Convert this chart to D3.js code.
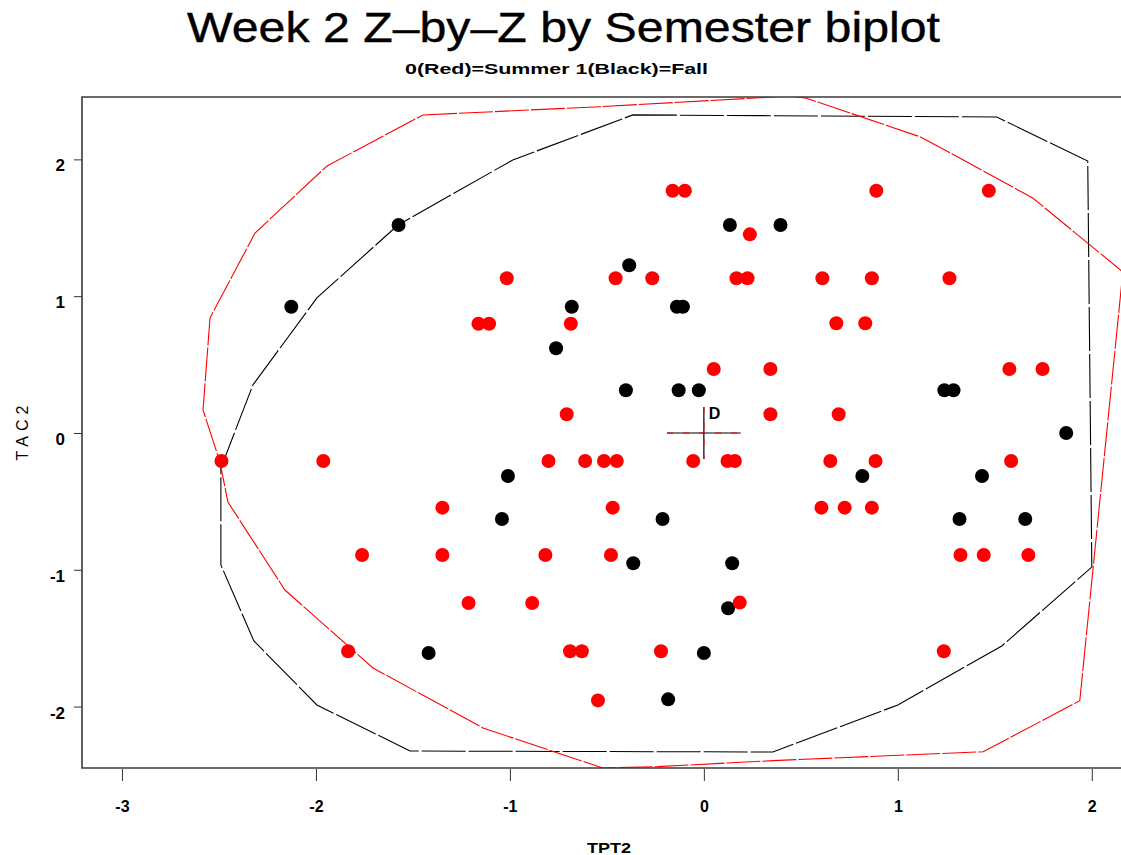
<!DOCTYPE html>
<html>
<head>
<meta charset="utf-8">
<script src="https://cdn.jsdelivr.net/npm/d3@7"></script>
<style>
  html, body { margin: 0; padding: 0; background: #fff; }
  svg { display: block; }
</style>
</head>
<body>
<svg id="chart" width="1121" height="855"></svg>
<script>
// ---- Data ----
const summerX = [-0.161,-0.098,0.889,1.469,0.237,-1.016,-0.455,-0.266,0.168,0.225,0.611,0.866,1.266,
  -1.162,-1.107,-0.686,0.683,0.832,0.051,0.343,1.575,1.746,-0.707,0.343,0.695,
  -2.487,-1.962,-0.801,-0.612,-0.515,-0.449,-0.055,0.122,0.160,0.652,0.885,1.584,
  -1.348,-0.470,0.606,0.726,0.866,
  -1.762,-1.348,-0.817,-0.479,1.323,1.443,1.673,
  -1.213,-0.885,0.185,
  -1.834,-0.690,-0.629,-0.221,1.237,-0.546];
const summerY = [1.771,1.771,1.771,1.771,1.452,1.131,1.131,1.131,1.131,1.131,1.131,1.131,1.131,
  0.799,0.799,0.799,0.802,0.802,0.468,0.468,0.468,0.468,0.137,0.137,0.137,
  -0.205,-0.205,-0.205,-0.205,-0.205,-0.205,-0.205,-0.205,-0.205,-0.205,-0.205,-0.205,
  -0.546,-0.546,-0.546,-0.546,-0.546,
  -0.892,-0.892,-0.892,-0.892,-0.892,-0.892,-0.892,
  -1.243,-1.243,-1.240,
  -1.596,-1.596,-1.596,-1.596,-1.596,-1.955];

const fallX = [-1.574,0.134,0.395,-0.385,-2.127,-0.681,-0.139,-0.108,-0.762,-0.402,-0.130,-0.026,1.240,1.287,1.868,
  -1.010,0.817,1.434,-1.041,-0.213,1.318,1.657,-0.364,0.146,0.125,-1.419,0.000,-0.184];
const fallY = [1.520,1.520,1.520,1.226,0.923,0.923,0.923,0.923,0.619,0.312,0.312,0.312,0.312,0.312,0.000,
  -0.314,-0.314,-0.314,-0.629,-0.629,-0.629,-0.629,-0.952,-0.952,-1.281,-1.608,-1.608,-1.947];

// Contour polygons (vertices, data units)
const summerHullX = [-1.448,-0.536,0.443,0.529,1.113,1.354,1.697,2.160,1.938,1.440,0.357,-0.236,-0.521,-1.139,-1.706,-2.160,-2.454,-2.495,-2.582,-2.546,-2.314,-1.943];
const summerHullY = [2.325,2.385,2.463,2.447,2.166,1.983,1.716,1.177,-1.957,-2.330,-2.395,-2.439,-2.449,-2.156,-1.718,-1.148,-0.504,-0.212,0.168,0.841,1.462,1.952];
const fallHullX = [-0.366,1.510,1.979,2.000,1.536,1.000,0.356,-1.515,-1.995,-2.320,-2.490,-2.490,-2.325,-1.995,-1.577,-0.985];
const fallHullY = [2.325,2.310,1.988,-0.980,-1.557,-1.988,-2.332,-2.325,-1.988,-1.520,-0.965,-0.256,0.351,0.987,1.520,1.996];

// Centre marker
const centreX = [0.0];
const centreY = [0.0];
const centreHalf = 0.19;

const xTicks = [-3,-2,-1,0,1,2];
const yTicks = [-2,-1,0,1,2];

const titleText = "Week 2 Z–by–Z by Semester biplot";
const subtitleText = "0(Red)=Summer 1(Black)=Fall";
const xLabel = "TPT2";
const yLabel = "TAC2";

// ---- Layout ----
const svg = d3.select("#chart");
const pLeft = 82, pTop = 97, pBottom = 768, pRight = 1150;
const x = d3.scaleLinear().domain([-3.206, 2.3]).range([pLeft, pRight]);
const y = d3.scaleLinear().domain([-2.449, 2.456]).range([pBottom, pTop]);

svg.append("defs").append("clipPath").attr("id", "plotclip")
  .append("rect").attr("x", pLeft).attr("y", pTop).attr("width", pRight - pLeft).attr("height", pBottom - pTop);

// Title
svg.append("text").attr("x", 187).attr("y", 42)
  .attr("font-family", "Liberation Sans, Arial, sans-serif").attr("font-size", 43)
  .attr("stroke", "#000").attr("stroke-width", 0.4)
  .attr("textLength", 753).attr("lengthAdjust", "spacingAndGlyphs")
  .text(titleText);
svg.append("text").attr("x", 405).attr("y", 74)
  .attr("font-family", "Liberation Sans, Arial, sans-serif").attr("font-size", 14).attr("font-weight", "bold")
  .attr("textLength", 303).attr("lengthAdjust", "spacingAndGlyphs")
  .text(subtitleText);

const plot = svg.append("g").attr("clip-path", "url(#plotclip)");

function hull(xs, ys) { return xs.map((v, i) => [x(v), y(ys[i])]); }
const line = d3.line().curve(d3.curveLinearClosed);

plot.append("path").attr("d", line(hull(fallHullX, fallHullY)))
  .attr("fill", "none").attr("stroke", "#000").attr("stroke-width", 1.1)
  .attr("stroke-dasharray", "44,3");
plot.append("path").attr("d", line(hull(summerHullX, summerHullY)))
  .attr("fill", "none").attr("stroke", "#ff0000").attr("stroke-width", 1.1)
  .attr("stroke-dasharray", "34,2");

// Points
plot.selectAll("circle.fall").data(fallX).join("circle").attr("class", "fall")
  .attr("cx", d => x(d)).attr("cy", (d, i) => y(fallY[i])).attr("r", 7).attr("fill", "#000");
plot.selectAll("circle.summer").data(summerX).join("circle").attr("class", "summer")
  .attr("cx", d => x(d)).attr("cy", (d, i) => y(summerY[i])).attr("r", 7).attr("fill", "#ff0000");

// Centre cross (black solid with red dashes overlapping)
centreX.forEach((cx, i) => {
  const cy = centreY[i];
  [["#000", null], ["#ff0000", "6,10"]].forEach(([col, dash]) => {
    plot.append("line").attr("x1", x(cx - centreHalf)).attr("x2", x(cx + centreHalf))
      .attr("y1", y(cy)).attr("y2", y(cy)).attr("stroke", col).attr("stroke-width", 1.2)
      .attr("stroke-dasharray", dash);
    plot.append("line").attr("x1", x(cx)).attr("x2", x(cx))
      .attr("y1", y(cy + centreHalf)).attr("y2", y(cy - centreHalf)).attr("stroke", col).attr("stroke-width", 1.2)
      .attr("stroke-dasharray", dash);
  });
  plot.append("text").attr("x", x(cx) + 5).attr("y", y(cy) - 14)
    .attr("font-family", "Liberation Sans, Arial, sans-serif").attr("font-size", 16).attr("font-weight", "bold")
    .text("D");
});

// Frame
svg.append("path").attr("d", `M${pRight},${pTop}H${pLeft}V${pBottom}H${pRight}`)
  .attr("fill", "none").attr("stroke", "#3a3a3a").attr("stroke-width", 1.6);

// Axes
const xAxis = svg.append("g").attr("transform", `translate(0,${pBottom + 1})`)
  .call(d3.axisBottom(x).tickValues(xTicks).tickSize(12).tickPadding(20).tickFormat(d3.format("d")));
xAxis.select(".domain").remove();
xAxis.selectAll("line").attr("stroke", "#333");
xAxis.selectAll("text").attr("font-family", "Liberation Sans, Arial, sans-serif")
  .attr("font-size", 16).attr("font-weight", "bold").attr("fill", "#000")
  .text(d => d < 0 ? "-" + Math.abs(d) : d);

const yAxis = svg.append("g").attr("transform", `translate(${pLeft},0)`)
  .call(d3.axisLeft(y).tickValues(yTicks).tickSize(8).tickPadding(9).tickFormat(d3.format("d")));
yAxis.select(".domain").remove();
yAxis.selectAll("line").attr("stroke", "#333");
yAxis.selectAll("text").attr("font-family", "Liberation Sans, Arial, sans-serif")
  .attr("font-size", 17).attr("font-weight", "bold").attr("fill", "#000")
  .attr("dy", "0.68em")
  .text(d => d < 0 ? "-" + Math.abs(d) : d);

// Axis titles
svg.append("text").attr("x", 609).attr("y", 853).attr("text-anchor", "middle")
  .attr("font-family", "Liberation Sans, Arial, sans-serif").attr("font-size", 15).attr("font-weight", "bold")
  .attr("textLength", 44).attr("lengthAdjust", "spacingAndGlyphs")
  .text(xLabel);
svg.append("text").attr("transform", `translate(28,${y(0)}) rotate(-90)`).attr("text-anchor", "middle")
  .attr("font-family", "Liberation Sans, Arial, sans-serif").attr("font-size", 16)
  .attr("textLength", 55).attr("lengthAdjust", "spacing")
  .text(yLabel);
</script>
</body>
</html>
